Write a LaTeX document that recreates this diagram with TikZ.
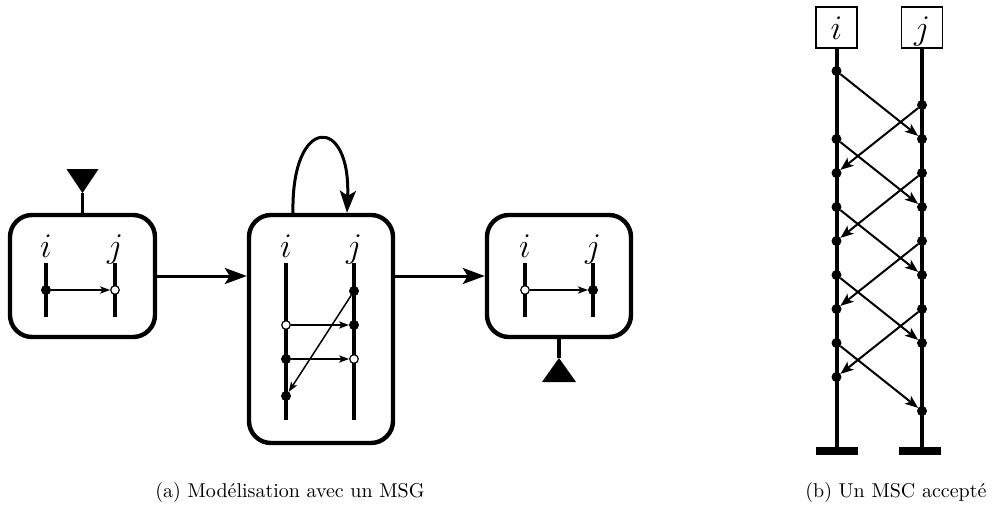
\documentclass[tikz,border=0pt]{standalone}
\usepackage{fontspec}
\usetikzlibrary{arrows.meta,calc}
\begin{document}
\begin{tikzpicture}[x=0.5pt,y=-0.5pt,
  state/.style={draw,line width=2.2pt,rounded corners=11pt,inner sep=0pt},
  lab/.style={anchor=base,font=\LARGE,inner sep=0pt},
  life/.style={line width=1.7pt},
  ev/.style={circle,fill=black,inner sep=0pt,outer sep=0pt,minimum size=5pt},
  oev/.style={circle,draw,fill=white,line width=0.6pt,inner sep=0pt,minimum size=4.3pt},
  smsg/.style={line width=0.75pt,-{Stealth[length=5pt,width=3.6pt,inset=1.2pt]}},
  bigarr/.style={line width=1.5pt,-{Stealth[length=11pt,width=8pt,inset=2.5pt]}},
  stem/.style={line width=1.6pt},
  head/.style={draw,line width=0.75pt,minimum size=20.5pt,inner sep=0pt,
    text height=14pt,text depth=2pt,font=\LARGE},
  bar/.style={fill=black,inner sep=0pt,minimum width=21pt,minimum height=3.6pt},
  mline/.style={line width=2pt},
  bmsg/.style={line width=1pt,-{Stealth[length=6.5pt,width=5pt,inset=1.6pt]}},
  captext/.style={anchor=base west,font=\normalsize,inner sep=0pt}]
\useasboundingbox (0,0) rectangle (993,510);

% ---------- (a) the message sequence graph ----------
\node[state,minimum width=72.5pt,minimum height=61pt] (b1) at (82.5,276) {};
\node[state,minimum width=72pt,minimum height=114pt] (b2) at (321,329) {};
\node[state,minimum width=72pt,minimum height=61pt] (b3) at (559,276) {};

% initial marker
\coordinate (init) at (82.5,193);
\draw[stem] (b1.north) -- (init);
\fill (init) -- ++(-16,-24) -- ++(32,0) -- cycle;

% final marker
\coordinate (fin) at (559,358);
\draw[stem] (b3.south) -- (fin);
\fill (fin) -- ++(-17,24) -- ++(34,0) -- cycle;

% transitions
\draw[bigarr] (b1.east) -- (b1.east -| b2.west);
\draw[bigarr] (b2.east |- b1.east) -- (b3.west);
\draw[bigarr] ([xshift=-14pt]b2.north) .. controls +(-1pt,49pt) and +(2pt,49pt) .. ([xshift=13pt]b2.north);

% box 1
\node[lab] at (46,257) {$i$};
\node[lab] at (115,257) {$j$};
\coordinate (t1i) at (46,263); \coordinate (u1i) at (46,317);
\coordinate (t1j) at (115,263); \coordinate (u1j) at (115,317);
\draw[life] (t1i) -- (u1i);
\draw[life] (t1j) -- (u1j);
\node[ev] (a1) at (46,290) {};
\node[oev] (a2) at (115,290) {};
\draw[smsg] (a1) -- (a2);

% box 2
\node[lab] at (286,257) {$i$};
\node[lab] at (354,257) {$j$};
\coordinate (t2i) at (286,263); \coordinate (u2i) at (286,420);
\coordinate (t2j) at (354,263); \coordinate (u2j) at (354,420);
\draw[life] (t2i) -- (u2i);
\draw[life] (t2j) -- (u2j);
\node[ev] (c1) at (354,291) {};
\node[oev] (c2) at (286,325) {};
\node[ev] (c3) at (354,325) {};
\node[ev] (c4) at (286,359) {};
\node[oev] (c5) at (354,359) {};
\node[ev] (c6) at (286,396) {};
\draw[smsg] (c2) -- (c3);
\draw[smsg] (c4) -- (c5);
\draw[smsg] (c1) -- (c6);

% box 3
\node[lab] at (525,257) {$i$};
\node[lab] at (593,257) {$j$};
\coordinate (t3i) at (525,263); \coordinate (u3i) at (525,317);
\coordinate (t3j) at (593,263); \coordinate (u3j) at (593,317);
\draw[life] (t3i) -- (u3i);
\draw[life] (t3j) -- (u3j);
\node[oev] (d1) at (525,290) {};
\node[ev] (d2) at (593,290) {};
\draw[smsg] (d1) -- (d2);

\node[captext] (capa) at (155,497) {(a) Modélisation avec un MSG};

% ---------- (b) an accepted message sequence chart ----------
\node[head] (hi) at (836.5,27.5) {$i$};
\node[head] (hj) at (922,27.5) {$j$};
\node[bar] (ei) at (836.5,451) {};
\node[bar] (ej) at (920,451) {};
\draw[mline] (hi.south) -- (ei.north);
\draw[mline] (hj.south) -- (hj.south |- ej.north);
\foreach \k in {0,2,3,4,5,6,7,8,9}
  \node[ev] (i\k) at (836.5,{71+34*\k}) {};
\foreach \k in {1,2,3,4,5,6,7,8,10}
  \node[ev] (j\k) at (922,{71+34*\k}) {};
\foreach \k in {0,2,4,6,8} {
  \pgfmathtruncatemacro\nxt{\k+2}
  \draw[bmsg] (i\k) -- (j\nxt);
}
\foreach \k in {1,3,5,7} {
  \pgfmathtruncatemacro\nxt{\k+2}
  \draw[bmsg] (j\k) -- (i\nxt);
}

\node[captext] (capb) at (805,497) {(b) Un MSC accepté};
\end{tikzpicture}
\end{document}
